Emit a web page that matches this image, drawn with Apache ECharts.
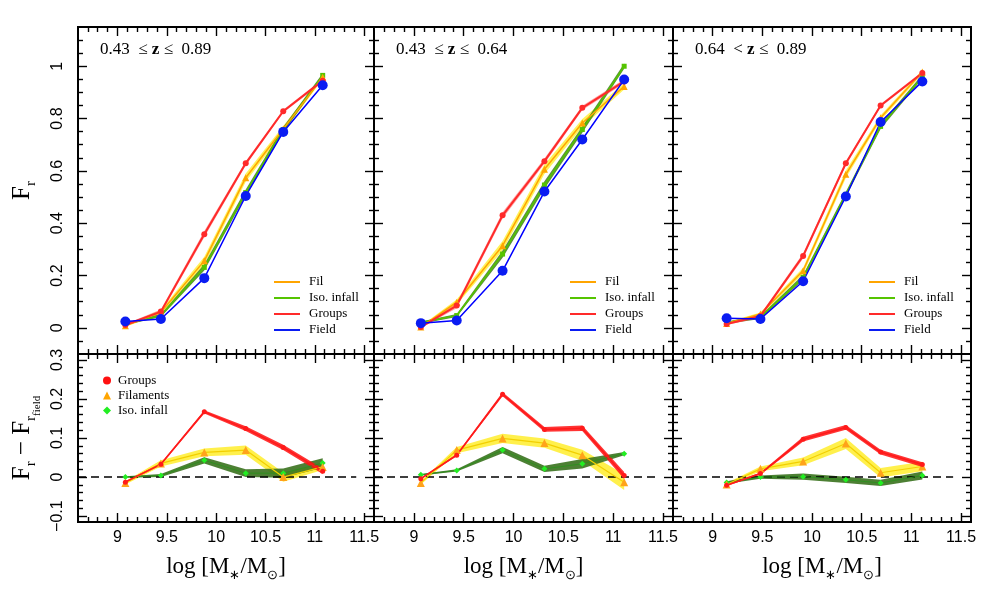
<!DOCTYPE html>
<html><head><meta charset="utf-8">
<script src="https://cdn.jsdelivr.net/npm/echarts@6/dist/echarts.min.js"></script>
<style>html,body{margin:0;padding:0;background:#fff}#c{width:993px;height:612px}</style>
</head><body><div id="c"></div>
<script>
// ---------- tick labels / tick positions ----------
const xTickMajor = [9, 9.5, 10, 10.5, 11, 11.5];
const xTickMinor = [8.7, 8.8, 8.9, 9.1, 9.2, 9.3, 9.4, 9.6, 9.7, 9.8, 9.9, 10.1, 10.2, 10.3, 10.4, 10.6, 10.7, 10.8, 10.9, 11.1, 11.2, 11.3, 11.4];
const frTickMajor = [0, 0.2, 0.4, 0.6, 0.8, 1];
const frTickMinor = [-0.05, 0.05, 0.1, 0.15, 0.25, 0.3, 0.35, 0.45, 0.5, 0.55, 0.65, 0.7, 0.75, 0.85, 0.9, 0.95, 1.05, 1.1];
const dTickMajor = [-0.1, 0, 0.1, 0.2, 0.3];
const dTickMinor = [-0.08, -0.06, -0.04, -0.02, 0.02, 0.04, 0.06, 0.08, 0.12, 0.14, 0.16, 0.18, 0.22, 0.24, 0.26, 0.28];
const zRangeLabels = ['0.43  ≤ {z|z} ≤  0.89', '0.43  ≤ {z|z} ≤  0.64', '0.64  < {z|z} ≤  0.89'];
const legendTop = ['Fil', 'Iso. infall', 'Groups', 'Field'];

// ---------- panel 1 : 0.43 <= z <= 0.89 ----------
const massAll = [9.08, 9.44, 9.88, 10.30, 10.68, 11.08];
const fieldAll = [0.024, 0.034, 0.190, 0.504, 0.749, 0.927];
const groupsAll = [0.011, 0.062, 0.358, 0.629, 0.828, 0.945];
const filAll = [0.008, 0.060, 0.256, 0.574, 0.760, 0.958];
const isoAll = [0.015, 0.047, 0.231, 0.517, 0.758, 0.965];
const groupsErrAll = [0.004, 0.008, 0.012, 0.008, 0.006, 0.006];
const filErrAll = [0.004, 0.008, 0.016, 0.016, 0.012, 0.008];
const isoErrAll = [0.004, 0.006, 0.012, 0.012, 0.010, 0.008];
const dGroupsAll = [-0.013, 0.033, 0.167, 0.124, 0.076, 0.015];
const dFilAll = [-0.015, 0.035, 0.063, 0.069, 0.000, 0.026];
const dIsoAll = [0.000, 0.004, 0.043, 0.010, 0.010, 0.036];
const dGroupsErrAll = [0.002, 0.003, 0.004, 0.006, 0.007, 0.007];
const dFilErrAll = [0.004, 0.008, 0.010, 0.012, 0.012, 0.008];
const dIsoErrAll = [0.002, 0.004, 0.008, 0.010, 0.012, 0.012];

// ---------- panel 2 : 0.43 <= z <= 0.64 ----------
const massLow = [9.07, 9.43, 9.89, 10.31, 10.69, 11.11];
const fieldLow = [0.018, 0.028, 0.218, 0.521, 0.720, 0.949];
const groupsLow = [0.003, 0.085, 0.430, 0.637, 0.841, 0.942];
const filLow = [0.003, 0.098, 0.314, 0.606, 0.783, 0.923];
const isoLow = [0.020, 0.047, 0.282, 0.546, 0.758, 1.000];
const groupsErrLow = [0.004, 0.010, 0.012, 0.010, 0.008, 0.008];
const filErrLow = [0.004, 0.010, 0.018, 0.018, 0.015, 0.012];
const isoErrLow = [0.004, 0.006, 0.014, 0.014, 0.012, 0.010];
const dGroupsLow = [-0.004, 0.056, 0.212, 0.122, 0.125, 0.004];
const dFilLow = [-0.015, 0.069, 0.099, 0.087, 0.056, -0.013];
const dIsoLow = [0.006, 0.017, 0.069, 0.021, 0.034, 0.060];
const dGroupsErrLow = [0.002, 0.003, 0.005, 0.006, 0.007, 0.009];
const dFilErrLow = [0.004, 0.008, 0.012, 0.012, 0.014, 0.020];
const dIsoErrLow = [0.002, 0.003, 0.008, 0.008, 0.012, 0.004];

// ---------- panel 3 : 0.64 < z <= 0.89 ----------
const massHigh = [9.14, 9.48, 9.91, 10.34, 10.69, 11.11];
const fieldHigh = [0.037, 0.034, 0.178, 0.502, 0.787, 0.942];
const groupsHigh = [0.015, 0.045, 0.275, 0.629, 0.850, 0.974];
const filHigh = [0.017, 0.053, 0.218, 0.587, 0.803, 0.978];
const isoHigh = [0.020, 0.040, 0.193, 0.510, 0.770, 0.960];
const groupsErrHigh = [0.004, 0.006, 0.010, 0.008, 0.006, 0.006];
const filErrHigh = [0.004, 0.006, 0.012, 0.014, 0.010, 0.008];
const isoErrHigh = [0.004, 0.006, 0.010, 0.010, 0.010, 0.008];
const dGroupsHigh = [-0.021, 0.009, 0.097, 0.127, 0.064, 0.032];
const dFilHigh = [-0.019, 0.021, 0.040, 0.086, 0.011, 0.027];
const dIsoHigh = [-0.014, 0.000, 0.001, -0.007, -0.015, 0.004];
const dGroupsErrHigh = [0.002, 0.003, 0.006, 0.006, 0.006, 0.006];
const dFilErrHigh = [0.004, 0.006, 0.010, 0.014, 0.012, 0.012];
const dIsoErrHigh = [0.003, 0.004, 0.008, 0.008, 0.008, 0.010];

const zeroLine = [[8.6, 0], [11.42, 0]];

const panels = [
  {mass: massAll, field: fieldAll, groups: groupsAll, fil: filAll, iso: isoAll, gE: groupsErrAll, fE: filErrAll, iE: isoErrAll,
   dG: dGroupsAll, dF: dFilAll, dI: dIsoAll, dgE: dGroupsErrAll, dfE: dFilErrAll, diE: dIsoErrAll},
  {mass: massLow, field: fieldLow, groups: groupsLow, fil: filLow, iso: isoLow, gE: groupsErrLow, fE: filErrLow, iE: isoErrLow,
   dG: dGroupsLow, dF: dFilLow, dI: dIsoLow, dgE: dGroupsErrLow, dfE: dFilErrLow, diE: dIsoErrLow},
  {mass: massHigh, field: fieldHigh, groups: groupsHigh, fil: filHigh, iso: isoHigh, gE: groupsErrHigh, fE: filErrHigh, iE: isoErrHigh,
   dG: dGroupsHigh, dF: dFilHigh, dI: dIsoHigh, dgE: dGroupsErrHigh, dfE: dFilErrHigh, diE: dIsoErrHigh}
];

// ---------- layout ----------
const panelLeft = [78, 374, 673];
const panelWidth = [296, 299, 298];
const rows = [
  {top: 27, height: 327, min: -0.1, max: 1.15, major: frTickMajor, minor: frTickMinor},
  {top: 354, height: 168, min: -0.115, max: 0.315, major: dTickMajor, minor: dTickMinor}
];
const SERIF = 'Liberation Serif';
const SANS = 'Liberation Sans';

const grids = [], xAxes = [], yAxes = [], series = [], titles = [], legends = [];

function fmt(v) {
  let s = String(Math.round(v * 100) / 100);
  return s.replace('-', '\u2212');
}

function tickAxis(gi, pos, min, max, vals, len) {
  return {type: 'value', gridIndex: gi, position: pos, min: min, max: max,
    axisLine: {show: false, onZero: false}, splitLine: {show: false},
    axisTick: {show: true, inside: true, length: len, customValues: vals, lineStyle: {color: '#000', width: 1.4}},
    axisLabel: {show: false}};
}

function addGrid(p, r) {
  const row = rows[r];
  const gi = grids.length;
  grids.push({left: panelLeft[p], top: row.top, width: panelWidth[p], height: row.height,
    show: true, borderColor: '#000', borderWidth: 2, backgroundColor: 'transparent'});
  const xi = xAxes.length;
  const xb = tickAxis(gi, 'bottom', 8.6, 11.6, xTickMajor, 9);
  if (r === 1) {
    xb.axisLabel = {show: true, customValues: xTickMajor, formatter: fmt, fontFamily: SANS, fontSize: 16, color: '#000', margin: 8};
    xb.name = '{m|log [M}{s|\u2217}{m|/M}{s|\u2299}{m|]}';
    xb.nameLocation = 'middle';
    xb.nameGap = 33;
    xb.nameTextStyle = {color: '#000', fontFamily: SERIF, fontSize: 23,
      rich: {m: {fontFamily: SERIF, fontSize: 23, lineHeight: 27, verticalAlign: 'top', color: '#000'},
             s: {fontFamily: SERIF, fontSize: 13, lineHeight: 13, verticalAlign: 'top', padding: [14, 0, 0, 0], color: '#000'}}};
  }
  xAxes.push(xb,
    tickAxis(gi, 'bottom', 8.6, 11.6, xTickMinor, 5),
    tickAxis(gi, 'top', 8.6, 11.6, xTickMajor, 9),
    tickAxis(gi, 'top', 8.6, 11.6, xTickMinor, 5));
  const yi = yAxes.length;
  const yl = tickAxis(gi, 'left', row.min, row.max, row.major, 9);
  if (p === 0) {
    yl.axisLabel = {show: true, customValues: row.major, formatter: fmt, rotate: 90, fontFamily: SANS, fontSize: 16, color: '#000', margin: 12};
    yl.nameLocation = 'middle';
    yl.nameRotate = 90;
    yl.nameGap = 40;
    if (r === 0) {
      yl.name = '{m|F}{s|r}';
    } else {
      yl.name = '{m|F}{s|r}{m| \u2212 F}{s|r}{ss|field}';
    }
    yl.nameTextStyle = {color: '#000', fontFamily: SERIF, fontSize: 25,
      rich: {m: {fontFamily: SERIF, fontSize: 25, lineHeight: 28, verticalAlign: 'top', color: '#000'},
             s: {fontFamily: SERIF, fontSize: 15, lineHeight: 15, verticalAlign: 'top', padding: [14, 0, 0, 0], color: '#000'},
             ss: {fontFamily: SERIF, fontSize: 11, lineHeight: 11, verticalAlign: 'top', padding: [22, 0, 0, 0], color: '#000'}}};
  }
  yAxes.push(yl,
    tickAxis(gi, 'left', row.min, row.max, row.minor, 5),
    tickAxis(gi, 'right', row.min, row.max, row.major, 9),
    tickAxis(gi, 'right', row.min, row.max, row.minor, 5));
  return {xi: xi, yi: yi};
}

function band(ax, xs, ys, errs, color, opacity) {
  const data = xs.map((x, i) => [x, ys[i] - errs[i], ys[i] + errs[i]]);
  return {type: 'custom', xAxisIndex: ax.xi, yAxisIndex: ax.yi, data: data, encode: {x: 0, y: [1, 2]}, silent: true,
    renderItem: function (params, api) {
      if (params.dataIndex !== 0) return;
      const up = [], lo = [];
      data.forEach(d => { up.push(api.coord([d[0], d[2]])); lo.push(api.coord([d[0], d[1]])); });
      return {type: 'polygon', shape: {points: up.concat(lo.reverse())}, style: {fill: color, opacity: opacity}};
    }};
}

function line(ax, name, xs, ys, lineColor, width, symbol, size, markColor) {
  return {type: 'line', name: name, xAxisIndex: ax.xi, yAxisIndex: ax.yi, data: xs.map((x, i) => [x, ys[i]]),
    symbol: symbol, symbolSize: size, showSymbol: true, silent: true,
    lineStyle: {color: lineColor, width: width}, itemStyle: {color: markColor || lineColor}};
}

panels.forEach((pd, p) => {
  // top panel: F_r
  const a = addGrid(p, 0);
  series.push(band(a, pd.mass, pd.fil, pd.fE, '#ffee22', 0.75));
  series.push(band(a, pd.mass, pd.iso, pd.iE, '#3e7d1c', 0.85));
  series.push(band(a, pd.mass, pd.groups, pd.gE, '#ff5a5a', 0.55));
  series.push(line(a, 'Iso. infall', pd.mass, pd.iso, '#55c400', 1.5, 'rect', 5));
  series.push(line(a, 'Fil', pd.mass, pd.fil, '#ffa500', 1.5, 'triangle', 7));
  series.push(line(a, 'Groups', pd.mass, pd.groups, '#ff2a2a', 2, 'circle', 6));
  series.push(line(a, 'Field', pd.mass, pd.field, '#0000ff', 1.5, 'circle', 10, '#0a1cf2'));
  titles.push({text: zRangeLabels[p], left: panelLeft[p] + 22, top: 41, padding: 0,
    textStyle: {fontFamily: SERIF, fontSize: 17, fontWeight: 'normal', color: '#000',
      rich: {z: {fontFamily: SERIF, fontSize: 17, fontWeight: 'bold', color: '#000'}}}});
  legends.push({orient: 'vertical', left: panelLeft[p] + 191, top: 270, icon: 'rect', itemWidth: 26, itemHeight: 2, itemGap: 2,
    selectedMode: false, data: legendTop,
    textStyle: {fontFamily: SERIF, fontSize: 13, color: '#000', lineHeight: 14, padding: [0, 0, 0, 4]}});

  // bottom panel: F_r - F_r,field
  const b = addGrid(p, 1);
  series.push({type: 'line', xAxisIndex: b.xi, yAxisIndex: b.yi, data: zeroLine, symbol: 'none', silent: true,
    lineStyle: {color: '#000', width: 1.6, type: [8, 5]}});
  series.push(band(b, pd.mass, pd.dF, pd.dfE, '#ffea00', 0.7));
  series.push(band(b, pd.mass, pd.dI, pd.diE, '#3a721e', 0.9));
  series.push(band(b, pd.mass, pd.dG, pd.dgE, '#ff1010', 0.85));
  series.push(line(b, 'Iso. infall', pd.mass, pd.dI, '#2f8f1f', 1, 'diamond', 6, '#22ee22'));
  series.push(line(b, 'Filaments', pd.mass, pd.dF, '#f2cf00', 1.2, 'triangle', 8, '#ffa31a'));
  series.push(line(b, 'Groups', pd.mass, pd.dG, '#ff1a1a', 1.5, 'circle', 5));
});

legends.push({orient: 'vertical', left: 98, top: 369, itemWidth: 8, itemHeight: 8, itemGap: 2, selectedMode: false,
  data: [{name: 'Groups', icon: 'circle', itemStyle: {color: '#ff1010'}},
         {name: 'Filaments', icon: 'triangle', itemStyle: {color: '#ffa500'}},
         {name: 'Iso. infall', icon: 'diamond', itemStyle: {color: '#22ee22'}}],
  textStyle: {fontFamily: SERIF, fontSize: 13, color: '#000', lineHeight: 13, padding: [0, 0, 0, 2]}});

const chart = echarts.init(document.getElementById('c'), null, {renderer: 'canvas'});
chart.setOption({animation: false, backgroundColor: '#fff', title: titles, legend: legends,
  grid: grids, xAxis: xAxes, yAxis: yAxes, series: series});
</script>
</body></html>
